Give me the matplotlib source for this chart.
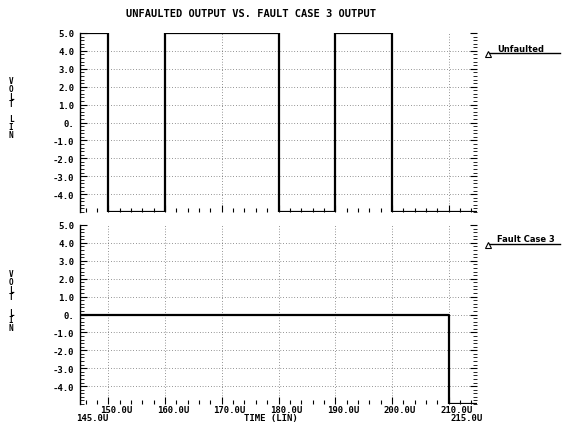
import matplotlib
matplotlib.use("Agg")
import matplotlib.pyplot as plt
from matplotlib.lines import Line2D
from matplotlib.ticker import MultipleLocator, FixedLocator
import matplotlib.transforms as mtransforms

# Data
edges = [145, 150, 160, 180, 190, 200, 215]
unfaulted = [5, -5, 5, -5, 5, -5]
fault_edges = [145, 210, 215]
fault_case3 = [0, -5]

ytick_vals = [5, 4, 3, 2, 1, 0, -1, -2, -3, -4]
ytick_labels = ["5.0", "4.0", "3.0", "2.0", "1.0", "0.", "-1.0", "-2.0", "-3.0", "-4.0"]
xgrid_vals = [150, 160, 170, 180, 190, 200, 210]
xtick_labels = ["150.0U", "160.0U", "170.0U", "180.0U", "190.0U", "200.0U", "210.0U"]

mono = "DejaVu Sans Mono"

fig = plt.figure(figsize=(5.63, 4.31), dpi=100)
ax1 = fig.add_axes([80 / 563, 1 - 213 / 431, 397 / 563, 179 / 431])
ax2 = fig.add_axes([80 / 563, 1 - 405 / 431, 397 / 563, 179 / 431])

for ax, xs, ys in [(ax1, edges, unfaulted), (ax2, fault_edges, fault_case3)]:
    ax.step(xs, ys + [ys[-1]], where="post", color="black", lw=1.6, zorder=3)
    ax.set_xlim(145, 215)
    ax.set_ylim(-5, 5)
    for y in ytick_vals[1:]:
        ax.axhline(y, color="#333333", lw=0.5, ls=(0, (1, 3)), zorder=1)
    for x in xgrid_vals:
        ax.axvline(x, color="#333333", lw=0.5, ls=(0, (1, 3)), zorder=1)
    for s in ["top", "bottom", "right"]:
        ax.spines[s].set_visible(False)
    ax.spines["left"].set_linewidth(1.0)
    ax.yaxis.set_major_locator(FixedLocator(ytick_vals))
    ax.set_yticklabels(ytick_labels, family=mono, fontweight="bold", fontsize=6.5)
    ax.yaxis.set_minor_locator(MultipleLocator(0.2))
    ax.xaxis.set_major_locator(FixedLocator(xgrid_vals))
    ax.xaxis.set_minor_locator(MultipleLocator(2))
    ax.set_xticklabels([])
    ax.tick_params(axis="y", which="major", direction="in", length=5, width=0.8,
                   left=True, right=True, pad=4)
    ax.tick_params(axis="y", which="minor", direction="in", length=3, width=0.6,
                   left=True, right=True)
    ax.tick_params(axis="x", which="major", direction="in", length=5, width=0.8)
    ax.tick_params(axis="x", which="minor", direction="in", length=3, width=0.8)

# x labels below the lower panel
tr = mtransforms.blended_transform_factory(ax2.transData, fig.transFigure)
for x, lab in zip(xgrid_vals, xtick_labels):
    ax2.text(x + 1.4, 1 - 411 / 431, lab, transform=tr, ha="center", va="center",
             family=mono, fontweight="bold", fontsize=6.5)
ax2.text(147.1, 1 - 419 / 431, "145.0U", transform=tr, ha="center", va="center",
         family=mono, fontweight="bold", fontsize=6.5)
ax2.text(213.2, 1 - 419 / 431, "215.0U", transform=tr, ha="center", va="center",
         family=mono, fontweight="bold", fontsize=6.5)
ax2.text(178.6, 1 - 419 / 431, "TIME (LIN)", transform=tr, ha="center", va="center",
         family=mono, fontweight="bold", fontsize=6.5)

# title
fig.text(251 / 563, 1 - 14 / 431, "UNFAULTED OUTPUT VS. FAULT CASE 3 OUTPUT",
         ha="center", va="center", family=mono, fontweight="bold", fontsize=7.5)

# stacked y labels
for top in [82, 275]:
    ypos = top
    for ch in "VOLT LIN":
        if ch != " ":
            fig.text(11 / 563, 1 - ypos / 431, ch, ha="center", va="center",
                     family=mono, fontweight="bold", fontsize=5.5)
        ypos += 7.6

# legend entries on the right
for ty, ly, lab in [(49, 54, "Unfaulted"), (240, 245, "Fault Case 3")]:
    fig.lines.append(Line2D([488 / 563, 560 / 563], [1 - ly / 431, 1 - ly / 431],
                            transform=fig.transFigure, color="black", lw=1.0))
    fig.lines.append(Line2D([488 / 563], [1 - (ly + 1) / 431], transform=fig.transFigure,
                            marker="^", markersize=4, mfc="white", mec="black",
                            mew=0.8, ls="none"))
    fig.text(497 / 563, 1 - ty / 431, lab, ha="left", va="center",
             fontweight="bold", fontsize=6)

fig.savefig("out.png", dpi=100)
